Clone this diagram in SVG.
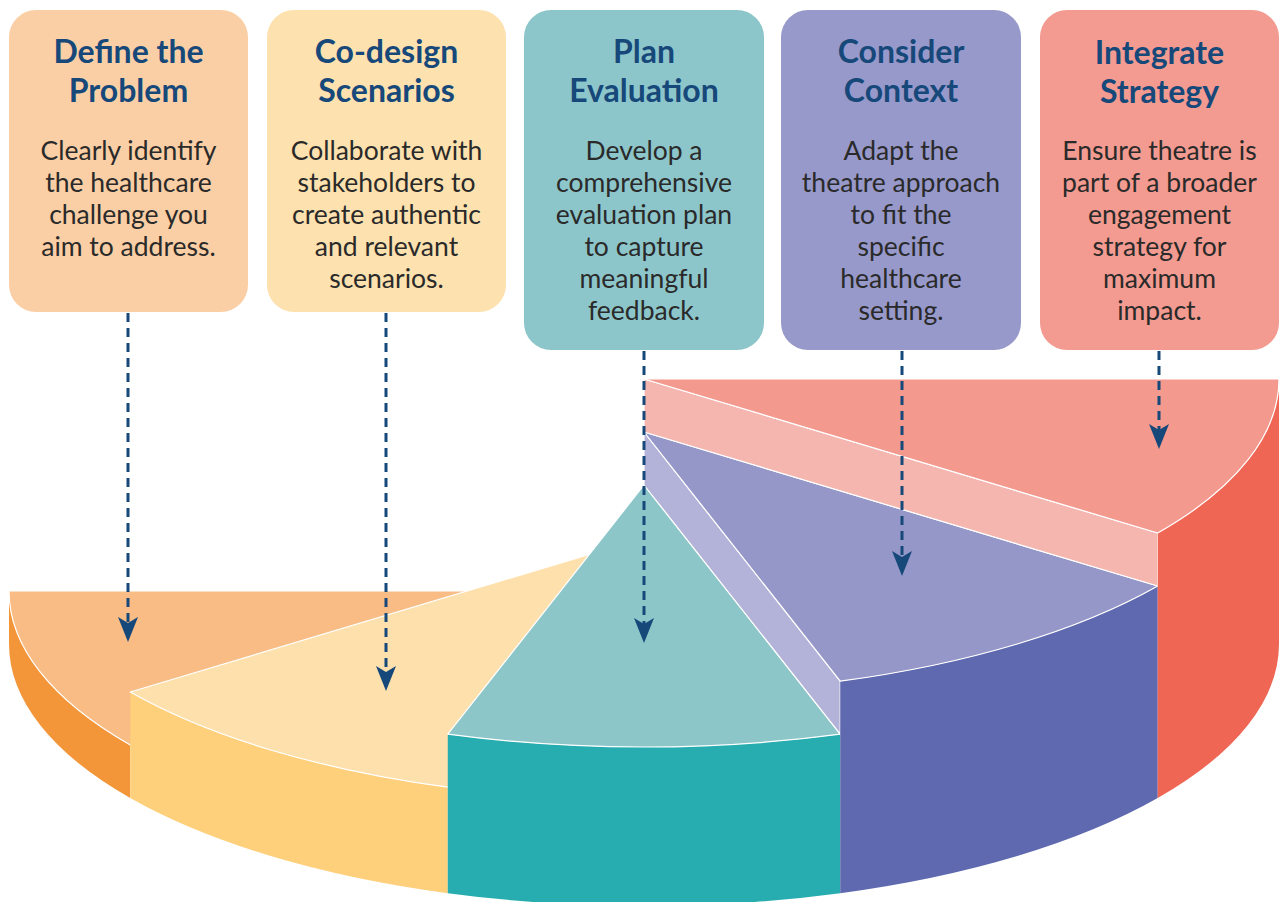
<svg xmlns="http://www.w3.org/2000/svg" width="1279" height="902" viewBox="0 0 1279 902">
  <style>
    .title { font-family: Lato, "Liberation Sans", sans-serif; font-weight: 700; font-size: 32px; fill: #16487A; text-anchor: middle; }
    .body { font-family: Lato, "Liberation Sans", sans-serif; font-weight: 400; font-size: 26.5px; fill: #2A2A2A; text-anchor: middle; }
    .card { stroke: none; }
    .top { stroke: #FFFFFF; stroke-width: 1.2; stroke-linejoin: round; }
    .link { fill: none; stroke: #16487A; stroke-width: 3; stroke-dasharray: 9 6; marker-end: url(#head); }
  </style>
  <defs>
    <marker id="head" markerUnits="userSpaceOnUse" markerWidth="26" markerHeight="22" viewBox="0 -11 26 22" refX="15" refY="0" orient="auto">
      <path d="M 25 0 L 0 -10 L 6 0 L 0 10 Z" fill="#16487A"/>
    </marker>
  </defs>

  <rect width="1279" height="902" fill="#FFFFFF"/>

  <!-- stepped half pie: ellipse rx 635, ry 262, centre x 644; base centre y 644 -->
  <g id="pie">
    <g id="slice-define">
      <path d="M 9 591 A 635 262 0 0 0 130.27 745 L 130.27 798 A 635 262 0 0 1 9 644 Z" fill="#F3963A"/>
      <path class="top" d="M 9 591 A 635 262 0 0 0 130.27 745 L 644 591 Z" fill="#F8BC84"/>
    </g>
    <g id="slice-codesign">
      <path d="M 130.27 692 A 635 262 0 0 0 447.77 787.18 L 447.77 893.18 A 635 262 0 0 1 130.27 798 Z" fill="#FED07B"/>
      <path class="top" d="M 130.27 692 A 635 262 0 0 0 447.77 787.18 L 644 538 Z" fill="#FEE0AD"/>
    </g>
    <g id="slice-plan">
      <path d="M 447.77 734.18 A 635 262 0 0 0 840.23 734.18 L 840.23 893.18 A 635 262 0 0 1 447.77 893.18 Z" fill="#27ADB0"/>
      <path class="top" d="M 447.77 734.18 A 635 262 0 0 0 840.23 734.18 L 644 485 Z" fill="#8DC6C9"/>
    </g>
    <g id="slice-context">
      <path class="top" d="M 644 432 L 840.23 681.18 L 840.23 734.18 L 644 485 Z" fill="#B3B3D9"/>
      <path d="M 840.23 681.18 A 635 262 0 0 0 1157.73 586 L 1157.73 798 A 635 262 0 0 1 840.23 893.18 Z" fill="#5F69AF"/>
      <path class="top" d="M 840.23 681.18 A 635 262 0 0 0 1157.73 586 L 644 432 Z" fill="#9697C9"/>
    </g>
    <g id="slice-integrate">
      <path class="top" d="M 644 379 L 1157.73 533 L 1157.73 586 L 644 432 Z" fill="#F4B6AF"/>
      <path d="M 1157.73 533 A 635 262 0 0 0 1279 379 L 1279 644 A 635 262 0 0 1 1157.73 798 Z" fill="#EF6654"/>
      <path class="top" d="M 1157.73 533 A 635 262 0 0 0 1279 379 L 644 379 Z" fill="#F3998E"/>
    </g>
  </g>

  <g id="connectors">
    <line class="link" x1="128" y1="313" x2="128" y2="632"/>
    <line class="link" x1="386" y1="313" x2="386" y2="681"/>
    <line class="link" x1="644" y1="351" x2="644" y2="633"/>
    <line class="link" x1="902" y1="351" x2="902" y2="566"/>
    <line class="link" x1="1159" y1="351" x2="1159" y2="439"/>
  </g>

  <g id="node-define">
    <rect class="card" x="9" y="10" width="239" height="302" rx="27" fill="#FBCFA5"/>
    <text class="title" x="128.5" y="63">Define the</text>
    <text class="title" x="128.5" y="101.5">Problem</text>
    <text class="body" x="128.5" y="160">Clearly identify</text>
    <text class="body" x="128.5" y="192">the healthcare</text>
    <text class="body" x="128.5" y="224">challenge you</text>
    <text class="body" x="128.5" y="256">aim to address.</text>
  </g>

  <g id="node-codesign">
    <rect class="card" x="267" y="10" width="239" height="302" rx="27" fill="#FDE1AE"/>
    <text class="title" x="386.5" y="63">Co-design</text>
    <text class="title" x="386.5" y="101.5">Scenarios</text>
    <text class="body" x="386.5" y="160">Collaborate with</text>
    <text class="body" x="386.5" y="192">stakeholders to</text>
    <text class="body" x="386.5" y="224">create authentic</text>
    <text class="body" x="386.5" y="256">and relevant</text>
    <text class="body" x="386.5" y="288">scenarios.</text>
  </g>

  <g id="node-plan">
    <rect class="card" x="524" y="10" width="240" height="340" rx="27" fill="#8DC6CA"/>
    <text class="title" x="644" y="63">Plan</text>
    <text class="title" x="644" y="101.5">Evaluation</text>
    <text class="body" x="644" y="160">Develop a</text>
    <text class="body" x="644" y="192">comprehensive</text>
    <text class="body" x="644" y="224">evaluation plan</text>
    <text class="body" x="644" y="256">to capture</text>
    <text class="body" x="644" y="288">meaningful</text>
    <text class="body" x="644" y="320">feedback.</text>
  </g>

  <g id="node-context">
    <rect class="card" x="781" y="10" width="240" height="340" rx="27" fill="#9799CB"/>
    <text class="title" x="901" y="63">Consider</text>
    <text class="title" x="901" y="101.5">Context</text>
    <text class="body" x="901" y="160">Adapt the</text>
    <text class="body" x="901" y="192">theatre approach</text>
    <text class="body" x="901" y="224">to fit the</text>
    <text class="body" x="901" y="256">specific</text>
    <text class="body" x="901" y="288">healthcare</text>
    <text class="body" x="901" y="320">setting.</text>
  </g>

  <g id="node-integrate">
    <rect class="card" x="1040" y="10" width="239" height="340" rx="27" fill="#F39B90"/>
    <text class="title" x="1159.5" y="64">Integrate</text>
    <text class="title" x="1159.5" y="102.5">Strategy</text>
    <text class="body" x="1159.5" y="160">Ensure theatre is</text>
    <text class="body" x="1159.5" y="192">part of a broader</text>
    <text class="body" x="1159.5" y="224">engagement</text>
    <text class="body" x="1159.5" y="256">strategy for</text>
    <text class="body" x="1159.5" y="288">maximum</text>
    <text class="body" x="1159.5" y="320">impact.</text>
  </g>
</svg>
